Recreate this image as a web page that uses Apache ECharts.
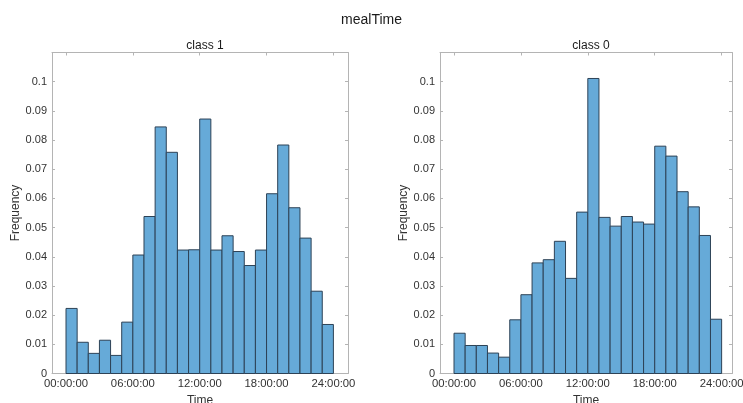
<!DOCTYPE html>
<html>
<head>
<meta charset="utf-8">
<title>mealTime</title>
<script src="https://cdn.jsdelivr.net/npm/echarts@6/dist/echarts.min.js"></script>
<style>
  html, body { margin: 0; padding: 0; background: #ffffff; }
  #chart { width: 743px; height: 403px; }
</style>
</head>
<body>
<div id="chart"></div>
<script>
// Hourly bin edges (hours of the day)
const binEdges = [0, 1, 2, 3, 4, 5, 6, 7, 8, 9, 10, 11, 12, 13, 14, 15, 16, 17, 18, 19, 20, 21, 22, 23, 24];

// Relative frequency of meal times per hour, class 1
const class1Freq = [0.0223, 0.0107, 0.0069, 0.0114, 0.0062, 0.0176, 0.0406, 0.0538,
                    0.0845, 0.0758, 0.0423, 0.0424, 0.0872, 0.0423, 0.0472, 0.0418,
                    0.0370, 0.0423, 0.0616, 0.0783, 0.0568, 0.0464, 0.0282, 0.0168];

// Relative frequency of meal times per hour, class 0
const class0Freq = [0.0138, 0.0096, 0.0096, 0.0070, 0.0056, 0.0184, 0.0270, 0.0379,
                    0.0390, 0.0453, 0.0326, 0.0553, 0.1011, 0.0535, 0.0505, 0.0538,
                    0.0519, 0.0512, 0.0779, 0.0745, 0.0623, 0.0571, 0.0473, 0.0186];

// Time axis ticks
const xTickHours = [0, 6, 12, 18, 24];
const xTickLabels = ['00:00:00', '06:00:00', '12:00:00', '18:00:00', '24:00:00'];

const panelTitles = ['class 1', 'class 0'];
const figureTitle = 'mealTime';

const FONT = '"Liberation Sans", Arial, Helvetica, sans-serif';
const FRAME = '#b4b4b4';
const TEXT = '#333333';
const BAR_FILL = '#66aad8';
const BAR_EDGE = '#2d4256';

function histData(freq) {
  return freq.map((f, i) => [binEdges[i], binEdges[i + 1], f]);
}

function renderBin(params, api) {
  const p0 = api.coord([api.value(0), 0]);
  const p1 = api.coord([api.value(1), api.value(2)]);
  return {
    type: 'rect',
    shape: { x: p0[0], y: p1[1], width: p1[0] - p0[0], height: p0[1] - p1[1] },
    style: { fill: BAR_FILL, stroke: BAR_EDGE, lineWidth: 1 }
  };
}

const grids = [
  { left: 52, top: 52.5, width: 296, height: 321, containLabel: false, outerBoundsMode: 'none' },
  { left: 440, top: 52.5, width: 292, height: 321, containLabel: false, outerBoundsMode: 'none' }
];
const xRanges = [[-1.257, 25.31], [-1.256, 24.93]];

const xAxes = [];
const yAxes = [];
const series = [];

[class1Freq, class0Freq].forEach((freq, g) => {
  const lineStyle = { color: FRAME, width: 1 };
  // bottom time axis
  xAxes.push({
    type: 'value', gridIndex: g, position: 'bottom',
    min: xRanges[g][0], max: xRanges[g][1],
    axisLine: { show: true, onZero: false, lineStyle },
    axisTick: { show: true, inside: true, length: 3, lineStyle, customValues: xTickHours },
    axisLabel: {
      show: true, customValues: xTickHours, margin: 5,
      color: TEXT, fontFamily: FONT, fontSize: 11.3,
      formatter: v => xTickLabels[xTickHours.indexOf(Math.round(v))] || ''
    },
    splitLine: { show: false },
    name: 'Time', nameLocation: 'middle', nameGap: 20,
    nameTextStyle: { color: TEXT, fontFamily: FONT, fontSize: 12 }
  });
  // top frame edge with ticks
  xAxes.push({
    type: 'value', gridIndex: g, position: 'top',
    min: xRanges[g][0], max: xRanges[g][1],
    axisLine: { show: true, onZero: false, lineStyle },
    axisTick: { show: true, inside: true, length: 3, lineStyle, customValues: xTickHours },
    axisLabel: { show: false },
    splitLine: { show: false }
  });
  // left frequency axis
  yAxes.push({
    type: 'value', gridIndex: g, position: 'left',
    min: 0, max: 0.11, interval: 0.01,
    axisLine: { show: true, onZero: false, lineStyle },
    axisTick: { show: true, inside: true, length: 3, lineStyle },
    axisLabel: {
      color: TEXT, fontFamily: FONT, fontSize: 11, margin: 5,
      formatter: v => (v > 0.105 ? '' : String(Number(v.toFixed(2))))
    },
    splitLine: { show: false },
    name: 'Frequency', nameLocation: 'middle', nameGap: 29,
    nameTextStyle: { color: TEXT, fontFamily: FONT, fontSize: 12 }
  });
  // right frame edge with ticks
  yAxes.push({
    type: 'value', gridIndex: g, position: 'right',
    min: 0, max: 0.11, interval: 0.01,
    axisLine: { show: true, onZero: false, lineStyle },
    axisTick: { show: true, inside: true, length: 3, lineStyle },
    axisLabel: { show: false },
    splitLine: { show: false }
  });
  series.push({
    type: 'custom',
    xAxisIndex: g * 2, yAxisIndex: g * 2,
    renderItem: renderBin,
    encode: { x: [0, 1], y: 2 },
    data: histData(freq),
    silent: true,
    animation: false
  });
});

const chart = echarts.init(document.getElementById('chart'), null, { renderer: 'canvas' });
chart.setOption({
  backgroundColor: '#ffffff',
  animation: false,
  title: [
    {
      text: figureTitle, left: 'center', top: 8,
      textStyle: { color: '#1a1a1a', fontFamily: FONT, fontSize: 14, fontWeight: 'normal' }
    },
    {
      text: panelTitles[0], left: 200, top: 35, textAlign: 'center',
      textStyle: { color: '#1a1a1a', fontFamily: FONT, fontSize: 12, fontWeight: 'normal' }
    },
    {
      text: panelTitles[1], left: 586, top: 35, textAlign: 'center',
      textStyle: { color: '#1a1a1a', fontFamily: FONT, fontSize: 12, fontWeight: 'normal' }
    }
  ],
  grid: grids,
  xAxis: xAxes,
  yAxis: yAxes,
  series: series
});
</script>
</body>
</html>
